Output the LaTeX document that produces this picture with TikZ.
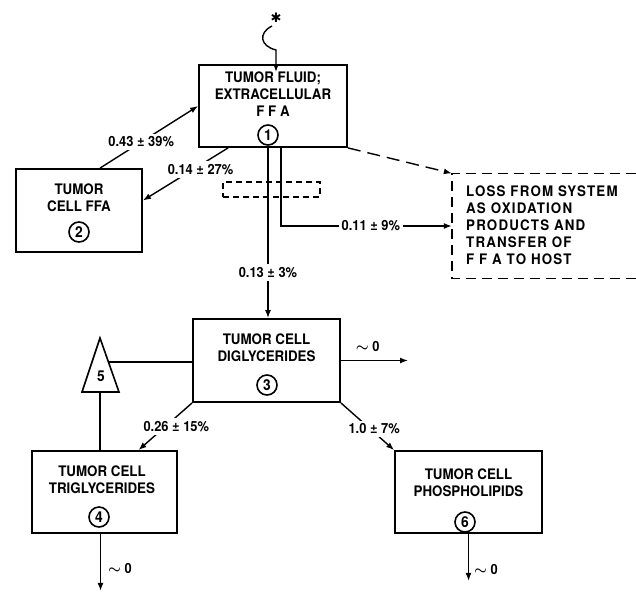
\documentclass[tikz,border=0pt]{standalone}
\usepackage{fontspec}
\setmainfont{TeX Gyre Heros}[FakeStretch=0.92]
\newfontfamily\symbfont{DejaVu Sans}
\usetikzlibrary{arrows.meta, positioning, calc}

\tikzset{
  box/.style={draw, line width=1.8pt, inner sep=0pt},
  txt/.style={font=\fontsize{14.5}{17}\selectfont\bfseries, align=center, inner sep=0pt, anchor=north},
  num/.style={draw, circle, line width=1.6pt, minimum size=20pt, inner sep=0pt, font=\fontsize{15}{15}\selectfont\bfseries},
  rate/.style={font=\fontsize{14}{14}\selectfont\bfseries\boldmath, fill=white, inner sep=3pt},
  flow/.style={line width=1.4pt, -{Latex[length=8pt,width=6pt]}},
  link/.style={line width=1.4pt},
}

\begin{document}
\begin{tikzpicture}[x=1pt,y=-1pt]
  \useasboundingbox (0,0) rectangle (636,592);

  % compartments
  \node[box, minimum width=148pt, minimum height=82pt] (fluid)   at (273,106)   {};
  \node[box, minimum width=126pt, minimum height=83pt] (cellffa) at (79,210.5)  {};
  \node[box, minimum width=147pt, minimum height=83pt] (digly)   at (266.5,360.5) {};
  \node[box, minimum width=145pt, minimum height=82pt] (trigly)  at (104.5,492) {};
  \node[box, minimum width=147pt, minimum height=82pt] (phospho) at (468.5,492) {};
  \node[minimum width=184pt, minimum height=105pt, inner sep=0pt] (loss) at (544,226) {};
  \draw[link, dash pattern=on 10pt off 6pt] (loss.north east) -- (loss.north west)
    -- (loss.south west) -- (loss.south east);
  \node[draw, line width=1.2pt, dash pattern=on 6pt off 4pt, minimum width=97pt,
        minimum height=15pt, inner sep=0pt] (gap) at (271.5,189.5) {};

  % texts
  \node[txt] (fluidtxt)   at (273,72)  {TUMOR FLUID;\\EXTRACELLULAR\\F F A};
  \node[txt] (cellffatxt) at (79,184)  {TUMOR\\CELL FFA};
  \node[txt] (diglytxt)   at (266.5,334) {TUMOR CELL\\DIGLYCERIDES};
  \node[txt] (triglytxt)  at (102,466) {TUMOR CELL\\TRIGLYCERIDES};
  \node[txt] (phosphotxt) at (468.5,469) {TUMOR CELL\\PHOSPHOLIPIDS};
  \node[txt, anchor=north west, align=left,
        font=\fontsize{14.5}{17}\selectfont\bfseries\addfontfeature{LetterSpace=8}] (losstxt) at (466,186)
    {LOSS FROM SYSTEM\\AS OXIDATION\\PRODUCTS AND\\TRANSFER OF\\F F A TO HOST};

  % compartment numbers
  \node[num] (c1) at (268,135) {1};
  \node[num] (c2) at (79,232)  {2};
  \node[num] (c3) at (267,385) {3};
  \node[num] (c4) at (99,517)  {4};
  \node[num] (c6) at (465,522) {6};

  % pool 5
  \coordinate (triapex) at (100,338);
  \coordinate (tribase) at (100,392);
  \draw[link, line width=1.6pt, line join=miter] (triapex) -- (82,392) -- (119,392) -- cycle;
  \node[font=\fontsize{15}{15}\selectfont\bfseries] (tri) at (101,376) {5};
  \coordinate (triside) at (109,362);

  % injection
  \node[font=\fontsize{13}{13}\selectfont\symbfont, inner sep=0pt] (star) at (276,18) {✱};
  \coordinate (inflow) at (276,72);
  \draw[flow] (272,26) .. controls (258,33) and (260,46) .. (276,50) -- (inflow);

  % fluxes
  \draw[flow] ([xshift=21pt]cellffa.north) -- node[rate, pos=0.42] {0.43 ± 39\%} (fluid.west);
  \draw[flow] ([xshift=30pt]fluid.south west) -- node[rate, pos=0.3, xshift=-2pt, yshift=-6pt] {0.14 ± 27\%}
    ([yshift=10pt]cellffa.east);
  \draw[flow] (c1.south) -- node[rate, pos=0.735] {0.13 ± 3\%} (c1.south |- digly.north);
  \draw[flow] ([xshift=8pt]fluid.south) |- node[rate, pos=0.763] {0.11 ± 9\%} (loss.west);
  \draw[flow, dash pattern=on 13pt off 7pt] (fluid.south east) -- (loss.north west);

  \draw[flow] (digly.east) -- node[rate, fill=none, pos=0.4, above=5pt] {$\sim$ 0} (408,360.5);
  \draw[link] (triside) -- (triside -| digly.west);
  \draw[link] (tribase) -- (tribase |- trigly.north);
  \draw[flow] (digly.south west) -- node[rate, pos=0.5, xshift=11pt] {0.26 ± 15\%}
    ([xshift=34pt]trigly.north);
  \draw[flow] (digly.south east) -- node[rate, pos=0.55, xshift=4pt] {1.0 ± 7\%} (phospho.north west);

  \draw[flow] ([xshift=-4pt]trigly.south) -- node[rate, fill=none, pos=0.6, right=4pt] {$\sim$ 0}
    ++(0,57);
  \draw[flow] (phospho.south) -- node[rate, fill=none, pos=0.75, right=2pt] {$\sim$ 0} ++(0,47);
\end{tikzpicture}
\end{document}
